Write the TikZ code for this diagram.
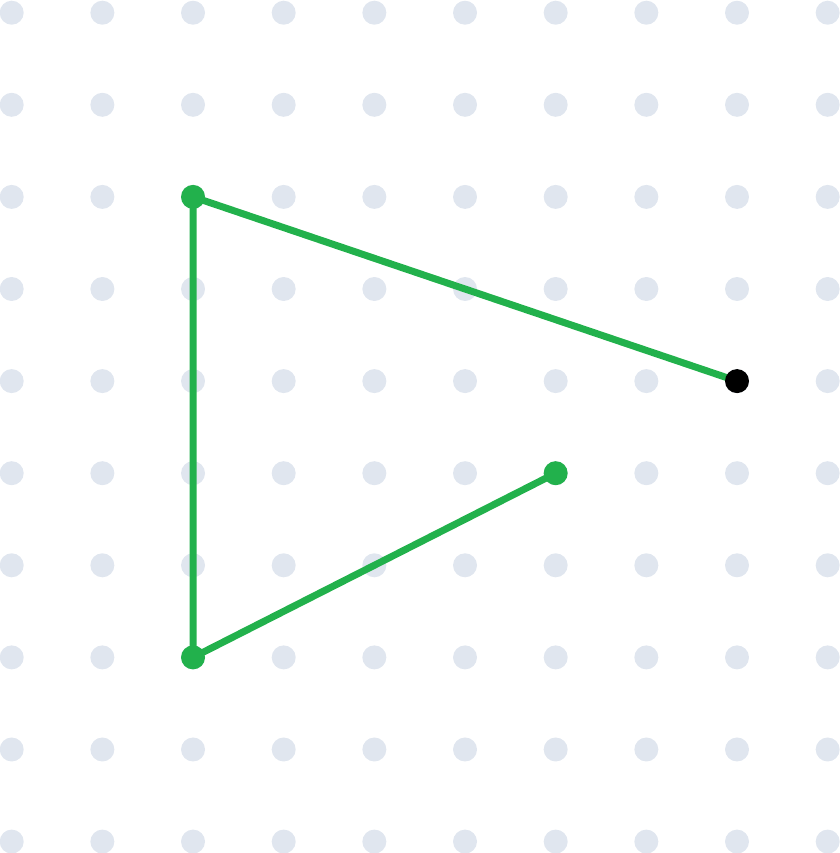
\documentclass[tikz,border=0pt]{standalone}
\usetikzlibrary{backgrounds}
\definecolor{dotgray}{RGB}{224,230,239}
\definecolor{pathgreen}{RGB}{34,177,76}
\begin{document}
\begin{tikzpicture}[
    x=2.2667cm, y=-2.3025cm,
    griddot/.style={fill=dotgray},
    vertex/.style={circle, fill=pathgreen, inner sep=0pt, minimum size=0.6cm},
    current/.style={circle, fill=black, inner sep=0pt, minimum size=0.6cm},
    edge/.style={draw=pathgreen, line width=0.175cm},
]
    \useasboundingbox (-0.129,-0.138) rectangle (9.135,9.124);

    % path points
    \node[vertex] (a) at (6,5) {};
    \node[vertex] (b) at (2,7) {};
    \node[vertex] (c) at (2,2) {};
    \node[current] (d) at (8,4) {};

    \begin{pgfonlayer}{background}
        % dot grid
        \foreach \i in {0,...,9}
            \foreach \j in {0,...,9}
                \fill[griddot] (\i,\j) circle (0.3cm);
        \draw[edge] (a.center) -- (b.center) -- (c.center) -- (d.center);
    \end{pgfonlayer}
\end{tikzpicture}
\end{document}
